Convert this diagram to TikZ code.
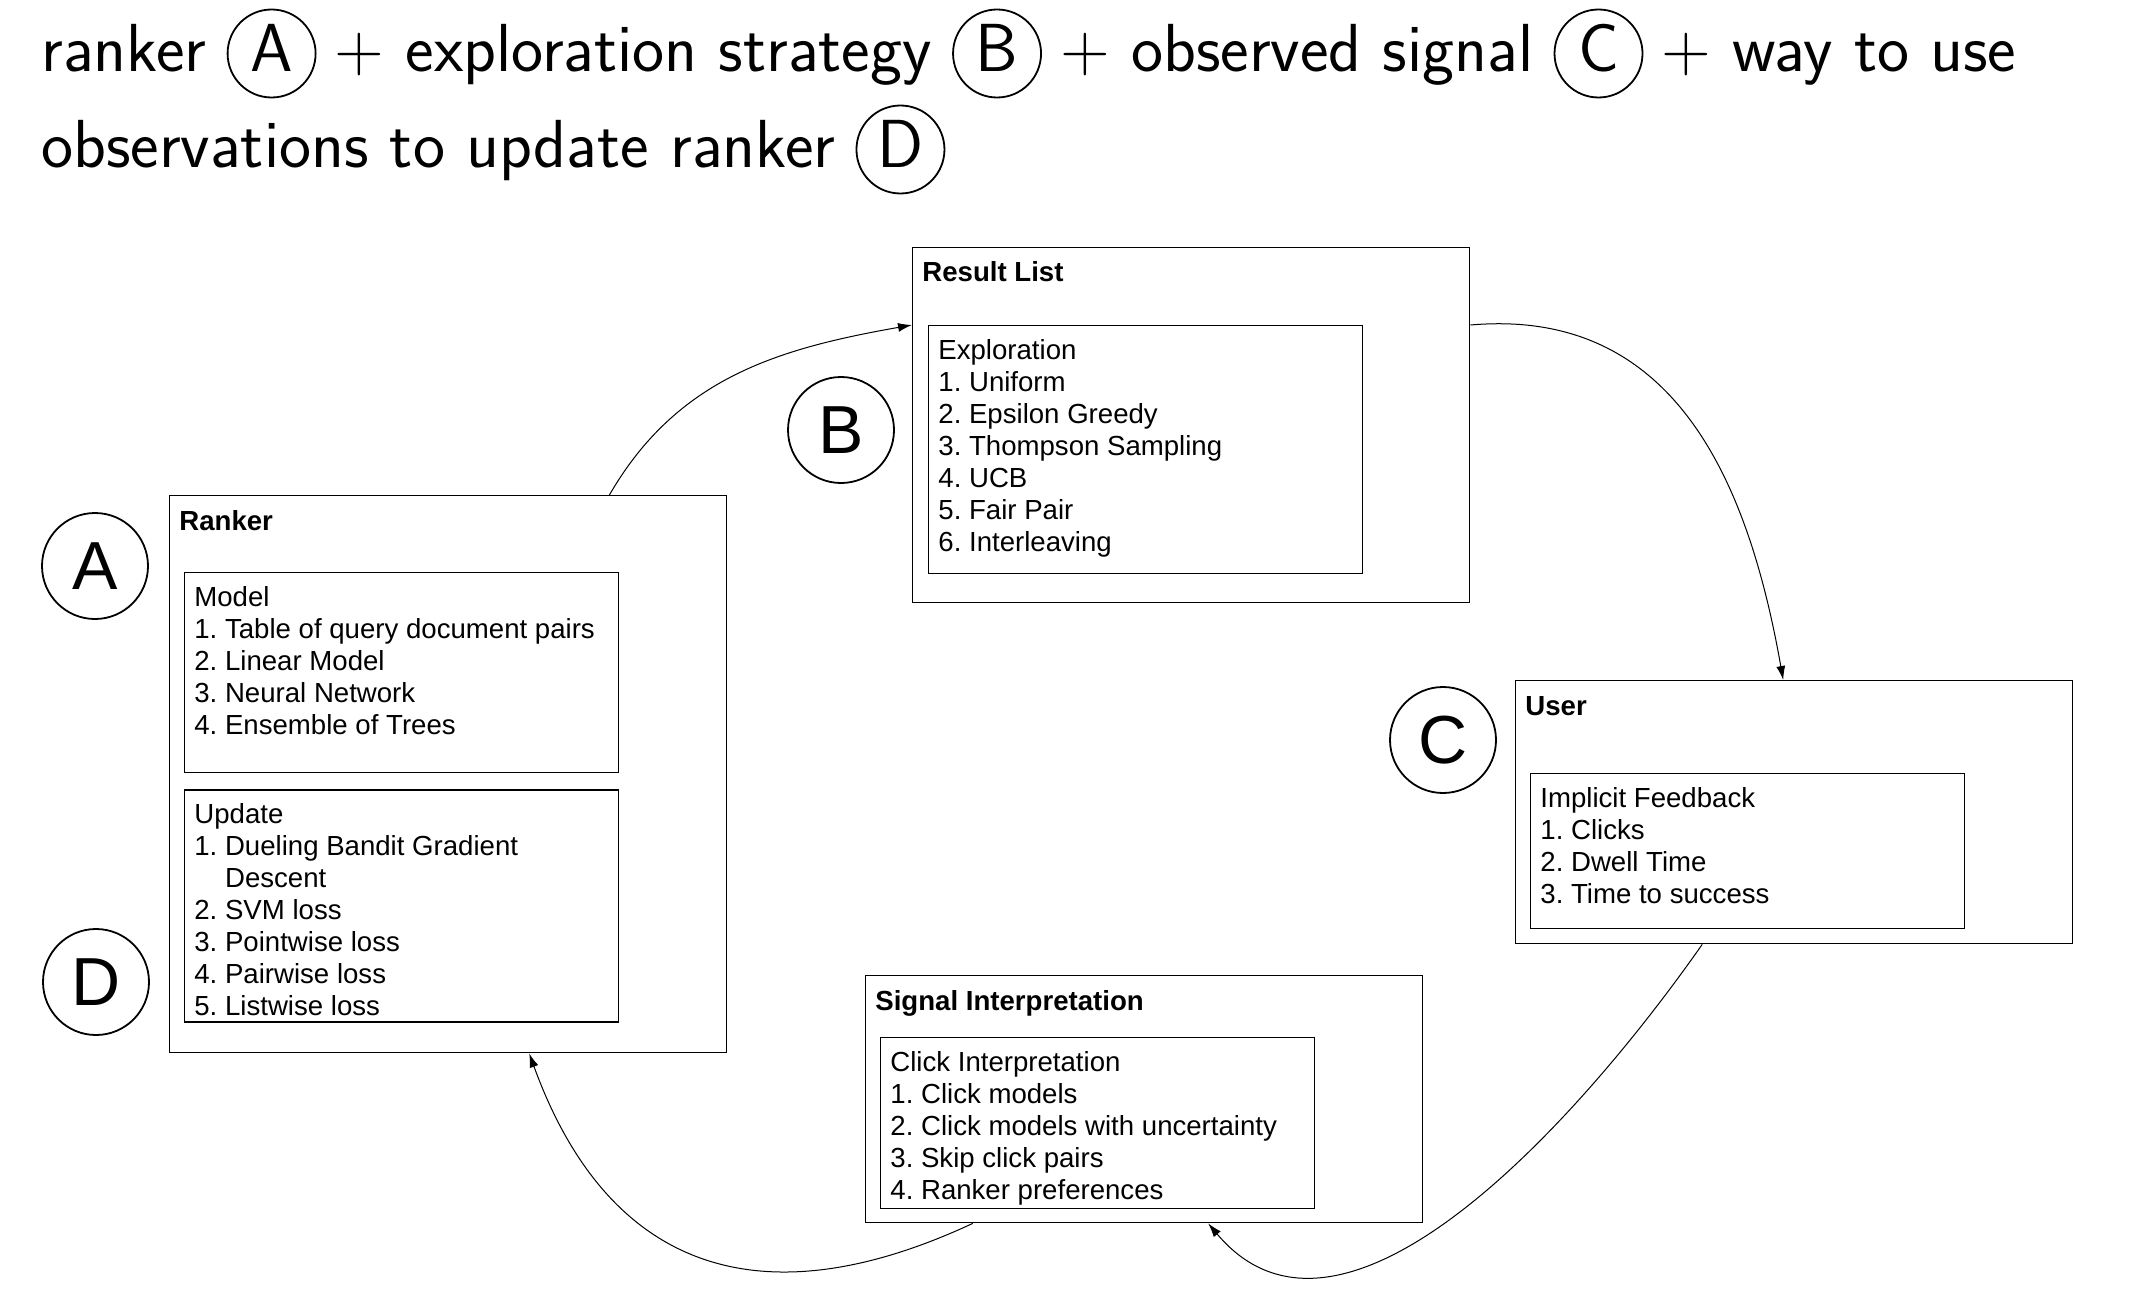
\documentclass[tikz,border=0pt]{standalone}
\usepackage{fontspec}
\newfontfamily\boxfont{Liberation Sans}
\usepackage{tikz}
\usetikzlibrary{arrows.meta,positioning}
\frenchspacing

\begin{document}
\begin{tikzpicture}[
  x=0.5pt, y=-0.5pt,
  hdr/.style   = {font=\sffamily\fontsize{34}{34}\selectfont, inner sep=0pt},
  hcirc/.style = {draw, circle, line width=0.9pt, minimum size=44pt,
                  inner sep=0pt, text height=18.5pt, text depth=0pt,
                  font=\sffamily\fontsize{34}{34}\selectfont},
  obox/.style  = {draw, line width=0.7pt, anchor=north west,
                  minimum width=278.5pt, inner sep=0pt},
  ibox/.style  = {draw, line width=0.7pt, anchor=north west,
                  minimum width=217pt, inner sep=0pt},
  ttl/.style   = {font=\boxfont\bfseries\fontsize{13.8}{16}\selectfont,
                  anchor=base west, inner sep=0pt},
  lst/.style   = {font=\boxfont\fontsize{13.8}{16}\selectfont,
                  align=left, anchor=north west, inner sep=0pt},
  lbl/.style   = {draw, circle, line width=0.9pt, minimum size=53pt,
                  inner sep=0pt, font=\boxfont\fontsize{34}{34}\selectfont},
  arr/.style   = {-{Latex[length=7pt,width=4.5pt]}, line width=0.5pt}
]
\useasboundingbox (0,0) rectangle (2150,1294);
%% -- Header --
\node[hdr, anchor=base west] (h1) at (41,72) {ranker};
\node[hcirc, base right=10pt of h1] (hA) {A};
\node[hdr, base right=9pt of hA]    (h2) {+ exploration strategy};
\node[hcirc, base right=10pt of h2] (hB) {B};
\node[hdr, base right=9pt of hB]    (h3) {+ observed signal};
\node[hcirc, base right=10pt of h3] (hC) {C};
\node[hdr, base right=9pt of hC]    (h4) {+ way to use};
\node[hdr, anchor=base west] (h5) at (41,168) {observations to update ranker};
\node[hcirc, base right=10pt of h5] (hD) {D};
%% -- Outer boxes --
\node[obox, minimum height=278.5pt] (rnk) at (169,495) {};
\node[obox, minimum height=177.5pt] (res) at (912,247) {};
\node[obox, minimum height=131.5pt] (usr) at (1515,680) {};
\node[obox, minimum height=123.5pt] (sig) at (865,975) {};
\foreach \nd/\tl in {rnk/Ranker,res/Result List,usr/User,sig/Signal Interpretation}{
  \node[ttl] (\nd-t) at ([xshift=5pt,yshift=-17.5pt]\nd.north west) {\tl};}
%% -- Inner boxes --
\node[ibox, minimum height=100pt]  (mdl)  at ([xshift=7.5pt,yshift=-38.5pt]rnk.north west) {};
\node[ibox, minimum height=116pt, below=8pt of mdl] (upd) {};
\node[ibox, minimum height=124pt]  (expl) at ([xshift=8pt,yshift=-39pt]res.north west) {};
\node[ibox, minimum height=77.5pt] (imp)  at ([xshift=7.5pt,yshift=-46.5pt]usr.north west) {};
\node[ibox, minimum height=85.5pt] (clk)  at ([xshift=7.5pt,yshift=-31pt]sig.north west) {};
%% -- Lists --
\node[lst] (mdl-l) at ([xshift=5pt,yshift=-7pt]mdl.north west)
  {Model\\1. Table of query document pairs\\2. Linear Model\\3. Neural Network\\4. Ensemble of Trees};
\node[lst] (upd-l) at ([xshift=5pt,yshift=-7pt]upd.north west)
  {Update\\1. Dueling Bandit Gradient\\\phantom{1.\ }Descent\\2. SVM loss\\3. Pointwise loss\\4. Pairwise loss\\5. Listwise loss};
\node[lst] (expl-l) at ([xshift=5pt,yshift=-7pt]expl.north west)
  {Exploration\\1. Uniform\\2. Epsilon Greedy\\3. Thompson Sampling\\4. UCB\\5. Fair Pair\\6. Interleaving};
\node[lst] (imp-l) at ([xshift=5pt,yshift=-7pt]imp.north west)
  {Implicit Feedback\\1. Clicks\\2. Dwell Time\\3. Time to success};
\node[lst] (clk-l) at ([xshift=5pt,yshift=-7pt]clk.north west)
  {Click Interpretation\\1. Click models\\2. Click models with uncertainty\\3. Skip click pairs\\4. Ranker preferences};
%% -- Letters --
\node[lbl] (cA) at (95,566)  {A};
\node[lbl] (cB) at (841,430) {B};
\node[lbl] (cC) at (1443,740) {C};
\node[lbl] (cD) at (96,982)  {D};
%% -- Loop --
\draw[arr] (rnk.60) to[out=60,in=190] (res.west |- expl.north);
\draw[arr] (res.east |- expl.north) to[out=5,in=100,looseness=1.1] ([xshift=-5.5pt]usr.north);
\draw[arr] ([xshift=-46pt]usr.south) to[out=235,in=-50,looseness=0.95] ([xshift=32pt]sig.south);
\draw[arr] ([xshift=-85.75pt]sig.south) to[out=205,in=-70,looseness=1.25] ([xshift=40.5pt]rnk.south);
\end{tikzpicture}
\end{document}
